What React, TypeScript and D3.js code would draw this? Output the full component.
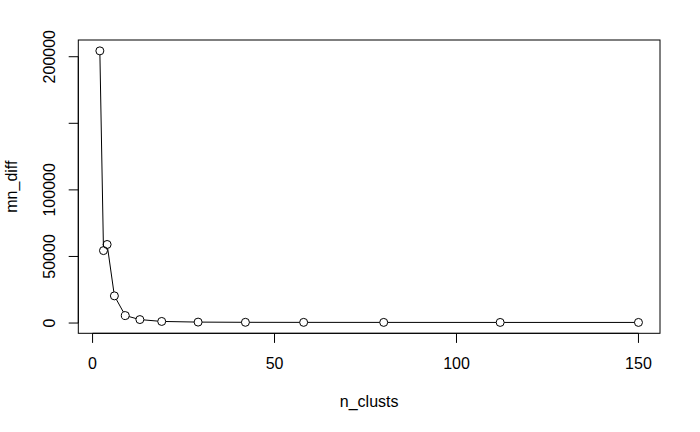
import React from "react";
import * as d3 from "d3";

const n_clusts = [2, 3, 4, 6, 9, 13, 19, 29, 42, 58, 80, 112, 150];
const mn_diff = [204400, 54400, 59000, 20400, 5600, 2600, 1200, 700, 550, 500, 480, 460, 450];
const xTicks = [0, 50, 100, 150];
const yTicks = [0, 50000, 100000, 150000, 200000];
const yTickLabels = ["0", "50000", "100000", "", "200000"];

const W = 700;
const H = 432;
const box = { left: 78.3, right: 660, top: 40, bottom: 333.3 };
const FONT = "'Liberation Sans', Arial, sans-serif";
const R = 4;
const TICK = 9.6;

function extend(ext: [number, number]): [number, number] {
  const d = (ext[1] - ext[0]) * 0.04;
  return [ext[0] - d, ext[1] + d];
}

export default function App() {
  const x = d3.scaleLinear().domain(extend(d3.extent(n_clusts) as [number, number])).range([box.left, box.right]);
  const y = d3.scaleLinear().domain(extend(d3.extent(mn_diff) as [number, number])).range([box.bottom, box.top]);
  const pts = n_clusts.map((v, i) => [x(v), y(mn_diff[i])]);

  const segs: JSX.Element[] = [];
  for (let i = 0; i < pts.length - 1; i++) {
    const [x1, y1] = pts[i];
    const [x2, y2] = pts[i + 1];
    const dx = x2 - x1, dy = y2 - y1;
    const len = Math.hypot(dx, dy);
    const gap = R;
    if (len <= 2 * gap) continue;
    const ux = dx / len, uy = dy / len;
    segs.push(
      <line key={i} x1={x1 + ux * gap} y1={y1 + uy * gap} x2={x2 - ux * gap} y2={y2 - uy * gap} stroke="#000" strokeWidth={1} />
    );
  }

  return (
    <svg width={W} height={H} style={{ position: "absolute", left: 0, top: 0, background: "#fff" }} fontFamily={FONT}>
      <rect x={0} y={0} width={W} height={H} fill="#fff" />
      <rect x={box.left} y={box.top} width={box.right - box.left} height={box.bottom - box.top} fill="none" stroke="#000" strokeWidth={1} />
      {segs}
      {pts.map(([px, py], i) => (
        <circle key={i} cx={px} cy={py} r={R} fill="none" stroke="#000" strokeWidth={1} />
      ))}
      {/* x axis */}
      <line x1={x(xTicks[0])} x2={x(xTicks[xTicks.length - 1])} y1={box.bottom} y2={box.bottom} stroke="#000" />
      {xTicks.map((t) => (
        <g key={t}>
          <line x1={x(t)} x2={x(t)} y1={box.bottom} y2={box.bottom + TICK} stroke="#000" />
          <text x={x(t)} y={369} fontSize={16} textAnchor="middle">{t}</text>
        </g>
      ))}
      {/* y axis */}
      <line x1={box.left} x2={box.left} y1={y(yTicks[0])} y2={y(yTicks[yTicks.length - 1])} stroke="#000" />
      {yTicks.map((t, i) => (
        <g key={t}>
          <line x1={box.left - TICK} x2={box.left} y1={y(t)} y2={y(t)} stroke="#000" />
          {yTickLabels[i] && (
            <text transform={`translate(${55},${y(t)}) rotate(-90)`} fontSize={16} textAnchor="middle">{yTickLabels[i]}</text>
          )}
        </g>
      ))}
      <text x={(box.left + box.right) / 2} y={407} fontSize={16} textAnchor="middle">n_clusts</text>
      <text transform={`translate(${17},${(box.top + box.bottom) / 2}) rotate(-90)`} fontSize={16} textAnchor="middle">mn_diff</text>
    </svg>
  );
}
